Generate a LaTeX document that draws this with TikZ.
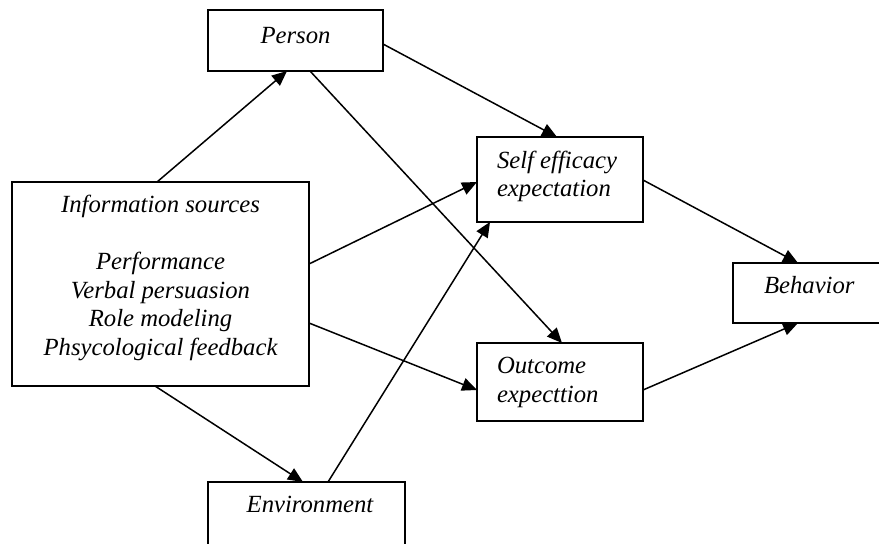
\documentclass[tikz,border=0pt]{standalone}
\usepackage{fontspec}
\setmainfont{Liberation Serif}
\usetikzlibrary{arrows.meta}
\begin{document}
\begin{tikzpicture}[x=1pt,y=-1pt,
  box/.style={draw=black,line width=1.5pt,inner sep=0pt,outer sep=0pt},
  txt/.style={inner sep=0pt,outer sep=0pt,font=\fontsize{24.7}{28.5}\selectfont\itshape},
  arr/.style={line width=1.5pt,-{Triangle[length=15pt,width=13pt]}}]
\useasboundingbox (0,0) rectangle (879,544);
% boxes
\node[box,minimum width=175pt,minimum height=61pt] (person) at (295.5,40.5) {};
\node[box,minimum width=297pt,minimum height=204pt] (info) at (160.5,284) {};
\node[box,minimum width=166pt,minimum height=85pt] (self) at (560,179.5) {};
\node[box,minimum width=166pt,minimum height=78pt] (outcome) at (560,382) {};
\node[box,minimum width=167pt,minimum height=60pt] (behavior) at (816.5,293) {};
\node[box,minimum width=197pt,minimum height=88pt] (env) at (306.5,526) {};
% texts
\node[txt,anchor=base] (tperson) at (295.5,43.5) {Person};
\node[txt,align=center] (tinfo) at (160.5,278) {Information sources\\[28.5pt]Performance\\Verbal persuasion\\Role modeling\\Phsycological feedback};
\node[txt,align=left,anchor=west] (tself) at (497,176.5) {Self efficacy\\expectation};
\node[txt,align=left,anchor=west] (toutcome) at (497,382.5) {Outcome\\expecttion};
\node[txt,anchor=base west] (tbehavior) at (764,293.5) {Behavior};
\node[txt,anchor=base] (tenv) at (310,512.5) {Environment};
% connectors
\draw[arr] ([xshift=145pt]info.north west) -- ([xshift=79pt]person.south west);
\draw[arr] ([yshift=-34pt]person.north east) -- ([xshift=80pt]self.north west);
\draw[arr] ([xshift=102pt]person.south west) -- ([xshift=85pt]outcome.north west);
\draw[arr] ([yshift=-82pt]info.north east) -- ([yshift=-45pt]self.north west);
\draw[arr] ([yshift=-141pt]info.north east) -- ([yshift=-47pt]outcome.north west);
\draw[arr] ([xshift=143pt]info.south west) -- ([xshift=95pt]env.north west);
\draw[arr] ([xshift=120pt]env.north west) -- ([xshift=13pt]self.south west);
\draw[arr] ([yshift=-43pt]self.north east) -- ([xshift=65pt]behavior.north west);
\draw[arr] ([yshift=-47pt]outcome.north east) -- ([xshift=65pt]behavior.south west);
\end{tikzpicture}
\end{document}
